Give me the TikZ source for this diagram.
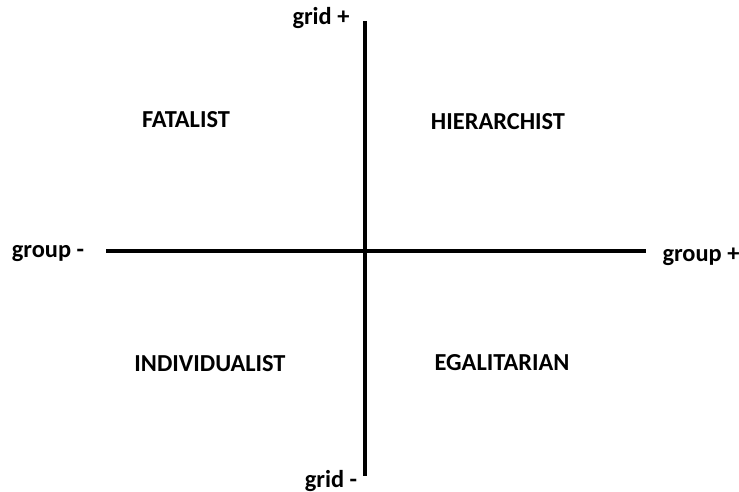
\documentclass[tikz,border=0pt]{standalone}
\usepackage{fontspec}
\setmainfont{Carlito}
\usetikzlibrary{positioning}
\tikzset{
  axis/.style={line width=2pt, black},
  quadlabel/.style={font=\fontsize{12.2}{14}\selectfont\bfseries},
}
\begin{document}
\begin{tikzpicture}[x=0.5pt, y=-0.5pt]
        \useasboundingbox (0,0) rectangle (739,492);
        \coordinate (gridtop) at (365,21);
        \coordinate (gridbot) at (365,476);
        \coordinate (groupleft) at (106,251);
        \coordinate (groupright) at (646,251);
        \draw[axis] (gridtop) -- (gridbot);
        \draw[axis] (groupleft) -- (groupright);
        \node[quadlabel] (gridplus)   at (321,18)  {grid +};
        \node[quadlabel] (gridminus)  at (331,481) {grid -};
        \node[quadlabel] (groupminus) at (48,254)  {group -};
        \node[quadlabel] (groupplus)  at (701,257) {group +};
        \node[quadlabel] (fatalist)   at (186,120) {FATALIST};
        \node[quadlabel] (hierarch)   at (498,122) {HIERARCHIST};
        \node[quadlabel] (individ)    at (210,364) {INDIVIDUALIST};
        \node[quadlabel] (egalit)     at (502,363) {EGALITARIAN};
      \end{tikzpicture}
\end{document}
